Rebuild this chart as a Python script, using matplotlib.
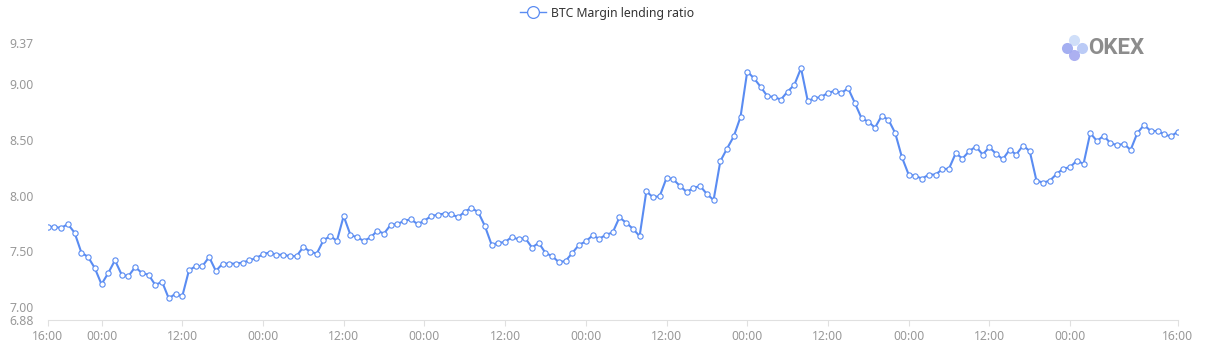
import matplotlib
matplotlib.use("Agg")
import matplotlib.pyplot as plt
from matplotlib.lines import Line2D
import numpy as np

plt.rcParams['font.family'] = ['Noto Sans', 'DejaVu Sans']

# hourly values, 16:00 on day 0 to 16:00 on day 7
ratio = [
    7.72, 7.72, 7.71, 7.745, 7.667, 7.49, 7.45, 7.35, 7.205, 7.306,
    7.42, 7.29, 7.277, 7.36, 7.306, 7.29, 7.198, 7.228, 7.078, 7.12,
    7.096, 7.33, 7.367, 7.367, 7.45, 7.324, 7.39, 7.39, 7.39, 7.40,
    7.42, 7.44, 7.475, 7.49, 7.47, 7.47, 7.457, 7.457, 7.54, 7.498,
    7.48, 7.60, 7.637, 7.595, 7.817, 7.649, 7.625, 7.595, 7.625, 7.685,
    7.66, 7.739, 7.745, 7.775, 7.787, 7.745, 7.775, 7.817, 7.829, 7.84,
    7.835, 7.805, 7.857, 7.889, 7.853, 7.727, 7.559, 7.577, 7.583, 7.63,
    7.607, 7.619, 7.534, 7.577, 7.486, 7.457, 7.403, 7.414, 7.486, 7.559,
    7.589, 7.643, 7.613, 7.649, 7.67, 7.805, 7.757, 7.703, 7.637, 8.039,
    7.985, 7.997, 8.159, 8.147, 8.087, 8.033, 8.069, 8.087, 8.015, 7.961,
    8.309, 8.423, 8.532, 8.706, 9.114, 9.054, 8.976, 8.892, 8.886, 8.862,
    8.934, 8.994, 9.144, 8.85, 8.874, 8.886, 8.922, 8.94, 8.922, 8.964,
    8.832, 8.694, 8.664, 8.61, 8.718, 8.68, 8.562, 8.345, 8.189, 8.177,
    8.153, 8.189, 8.189, 8.237, 8.243, 8.381, 8.333, 8.399, 8.441, 8.369,
    8.435, 8.375, 8.327, 8.411, 8.369, 8.45, 8.40, 8.135, 8.117, 8.135,
    8.195, 8.243, 8.255, 8.315, 8.285, 8.562, 8.49, 8.538, 8.471, 8.453,
    8.465, 8.411, 8.562, 8.634, 8.58, 8.58, 8.55, 8.532, 8.574,
]
hours = np.arange(len(ratio))

x_ticks = [0, 8, 20, 32, 44, 56, 68, 80, 92, 104, 116, 128, 140, 152, 168]
x_labels = ['16:00'] + ['00:00', '12:00'] * 6 + ['00:00', '16:00']
y_ticks = [6.88, 7.00, 7.50, 8.00, 8.50, 9.00, 9.37]

blue = '#5a8cf2'
gray = '#999999'

fig = plt.figure(figsize=(12.14, 3.49), dpi=100)
ax = fig.add_axes([0.0393, 0.0817, 0.9308, 0.7951])

ax.plot(hours, ratio, color=blue, lw=1.5, marker='o', ms=3.8,
        mfc='white', mec=blue, mew=0.8, label='BTC Margin lending ratio')

ax.set_xlim(0, 168)
ax.set_ylim(6.88, 9.37)
ax.set_xticks(x_ticks)
ax.set_xticklabels(x_labels)
ax.set_yticks(y_ticks)
ax.set_yticklabels(['%.2f' % v for v in y_ticks])

for s in ['top', 'right', 'left']:
    ax.spines[s].set_visible(False)
ax.spines['bottom'].set_color('#e0e0e0')
ax.tick_params(axis='x', colors='#e0e0e0', labelcolor=gray, length=4,
               labelsize=8.8, pad=3)
ax.tick_params(axis='y', length=0, labelcolor=gray, labelsize=8.8, pad=10)

leg = fig.legend(loc='upper center', bbox_to_anchor=(0.5, 1.0), frameon=False,
                 fontsize=8.8, handlelength=2.2, handletextpad=0.4,
                 borderaxespad=0.15)
for h in leg.legend_handles:
    h.set_markersize(8.5)
    h.set_markeredgewidth(0.9)
    h.set_linewidth(1.0)
for t in leg.get_texts():
    t.set_color('#333333')

# OKEX watermark
logo = [(1074, 40, '#cbdcf9'), (1081.5, 47.5, '#b4c6f6'),
        (1066.5, 47.5, '#9aa6f0'), (1074, 55, '#a3a8f0')]
for px, py, c in logo:
    fig.add_artist(Line2D([px / 1214], [1 - py / 349], marker='o', ms=8,
                          color=c, mec='none', alpha=0.9,
                          transform=fig.transFigure))
fig.text(1088 / 1214, 1 - 48 / 349, 'OKEX', ha='left', va='center',
         fontsize=16, fontweight='bold', family='Roboto', color='#8c8c8c')

fig.savefig('out.png', dpi=100)
